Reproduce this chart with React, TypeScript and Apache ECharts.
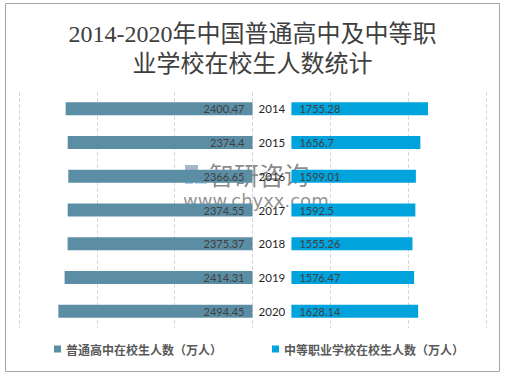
import React, { useEffect, useRef } from "react";
import * as echarts from "echarts";

const years = ["2014", "2015", "2016", "2017", "2018", "2019", "2020"];
const highSchool = [2400.47, 2374.4, 2366.65, 2374.55, 2375.37, 2414.31, 2494.45];
const vocational = [1755.28, 1656.7, 1599.01, 1592.5, 1555.26, 1576.47, 1628.14];
const offsetValue = 500;
const seriesNames = ["普通高中在校生人数（万人）", "中等职业学校在校生人数（万人）"];
const titleText = "2014-2020年中国普通高中及中等职\n业学校在校生人数统计";

const labelFont = "Lato, 'Liberation Sans', sans-serif";

export default function App() {
  const ref = useRef<HTMLDivElement>(null);
  useEffect(() => {
    if (!ref.current) return;
    const chart = echarts.init(ref.current, undefined, { renderer: "svg" });
    chart.setOption({
      animation: false,
      backgroundColor: "#ffffff",
      title: {
        text: titleText,
        left: "center",
        top: 14,
        textStyle: {
          fontFamily: "'Liberation Serif', 'Noto Sans CJK SC', serif",
          fontSize: 24,
          fontWeight: "normal",
          color: "#404040",
          lineHeight: 30,
        },
      },
      legend: {
        bottom: 16,
        left: 49,
        itemWidth: 7,
        itemHeight: 7,
        itemGap: 50,
        icon: "rect",
        textStyle: {
          fontFamily: "'Noto Sans CJK SC', sans-serif",
          fontSize: 12,
          fontWeight: "bold",
          color: "#595959",
        },
        data: seriesNames,
      },
      grid: { left: 19, right: 19, top: 92, bottom: 48, containLabel: false },
      xAxis: {
        type: "value",
        min: -3000,
        max: 3000,
        interval: 1000,
        axisLabel: { show: false },
        axisLine: { show: false },
        axisTick: { show: false },
        splitLine: { lineStyle: { color: "#d9d9d9", type: "dashed", width: 1 } },
      },
      yAxis: {
        type: "category",
        data: years,
        inverse: true,
        axisLabel: { show: false },
        axisLine: { show: false },
        axisTick: { show: false },
      },
      series: [
        {
          name: seriesNames[0],
          type: "bar",
          stack: "total",
          barWidth: 13,
          itemStyle: { color: "#5b8ea5" },
          data: highSchool.map((v) => -v),
          label: {
            show: true,
            position: "insideRight",
            distance: 8,
            color: "#404040",
            fontFamily: labelFont,
            fontSize: 11,
            formatter: (p: any) => String(highSchool[p.dataIndex]),
          },
        },
        {
          name: "offset",
          type: "bar",
          stack: "total",
          barWidth: 13,
          itemStyle: { color: "rgba(0,0,0,0)" },
          data: years.map(() => offsetValue),
          label: {
            show: true,
            position: "inside",
            color: "#262626",
            fontFamily: labelFont,
            fontSize: 11.5,
            formatter: (p: any) => years[p.dataIndex],
          },
          tooltip: { show: false },
        },
        {
          name: seriesNames[1],
          type: "bar",
          stack: "total",
          barWidth: 13,
          itemStyle: { color: "#00a3dc" },
          data: vocational,
          label: {
            show: true,
            position: "insideLeft",
            distance: 8,
            color: "#404040",
            fontFamily: labelFont,
            fontSize: 11,
            formatter: (p: any) => String(vocational[p.dataIndex]),
          },
        },
      ],
      graphic: [
        {
          type: "rect",
          shape: { x: 5.5, y: 3.5, width: 494, height: 368 },
          style: { fill: "none", stroke: "#a6a6a6", lineWidth: 1 },
          silent: true,
        },
        {
          type: "group",
          silent: true,
          z: 100,
          children: [
            {
              type: "rect",
              shape: { x: 185, y: 165, width: 13, height: 8 },
              style: { fill: "rgba(110,130,170,0.6)" },
            },
            {
              type: "rect",
              shape: { x: 185, y: 175, width: 8, height: 9 },
              style: { fill: "rgba(120,160,210,0.55)" },
            },
            {
              type: "rect",
              shape: { x: 195, y: 175, width: 12, height: 9 },
              style: { fill: "rgba(140,190,230,0.55)" },
            },
            {
              type: "text",
              x: 209,
              y: 174,
              style: {
                text: "智研咨询",
                font: "25px 'Noto Sans CJK SC', sans-serif",
                fill: "rgba(70,70,70,0.65)",
                verticalAlign: "middle",
                align: "left",
              },
            },
            {
              type: "text",
              x: 183,
              y: 200,
              style: {
                text: "www.chyxx.com",
                font: "18px 'DejaVu Sans', sans-serif",
                fill: "rgba(70,70,70,0.6)",
                verticalAlign: "middle",
                align: "left",
              },
            },
          ],
        },
      ],
    });
    return () => chart.dispose();
  }, []);
  return (
    <div
      ref={ref}
      style={{ position: "absolute", left: 0, top: 0, width: 505, height: 376 }}
    />
  );
}
